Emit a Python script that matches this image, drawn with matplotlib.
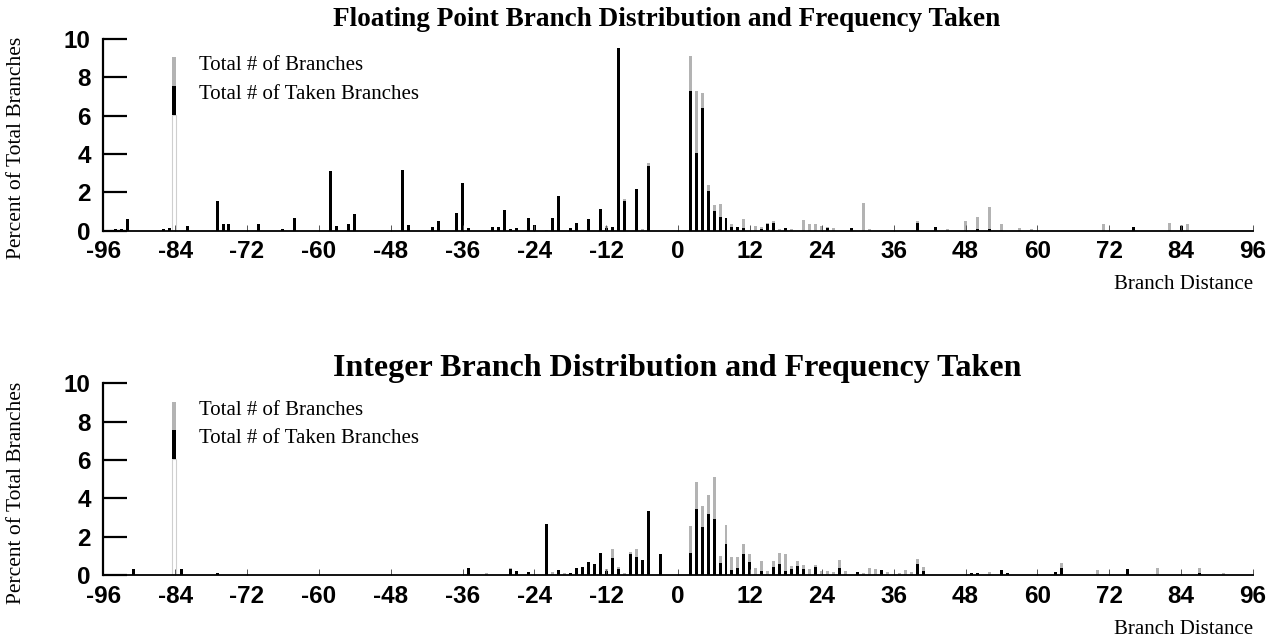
import matplotlib
matplotlib.use("Agg")
import matplotlib.pyplot as plt
from matplotlib.patches import Rectangle

# branch distance -> (% of all branches, % of branches taken)
fp_dist = [-94, -93, -92, -86, -85, -82, -77, -76, -75, -70, -66, -64, -58, -57,
           -55, -54, -46, -45, -41, -40, -37, -36, -35, -31, -30, -29, -28, -27,
           -25, -24, -22, -21, -20, -18, -17, -15, -13, -12, -11, -10, -9, -7,
           -6, -5, 2, 3, 4, 5, 6, 7, 8, 9, 10, 11, 13, 14, 15, 16, 17, 18, 19,
           21, 22, 23, 24, 25, 26, 29, 31, 32, 40, 43, 45, 48, 50, 52, 54, 57,
           59, 71, 76, 82, 84, 85]
fp_total = [0.08, 0.1, 0.63, 0.1, 0.15, 0.23, 1.53, 0.35, 0.35, 0.35, 0.1, 0.66,
            3.13, 0.24, 0.35, 0.85, 3.14, 0.3, 0.21, 0.49, 0.9, 2.5, 0.16, 0.19,
            0.19, 1.08, 0.1, 0.12, 0.66, 0.31, 0.05, 0.66, 1.79, 0.12, 0.42, 0.61,
            1.15, 0.25, 0.19, 9.55, 1.65, 2.2, 0.08, 3.54, 9.13, 7.27, 7.19, 2.38,
            1.34, 1.41, 0.66, 0.35, 0.2, 0.63, 0.24, 0.19, 0.38, 0.49, 0.09, 0.14,
            0.09, 0.56, 0.36, 0.36, 0.25, 0.18, 0.16, 0.12, 1.46, 0.1, 0.5, 0.17,
            0.09, 0.5, 0.71, 1.25, 0.35, 0.12, 0.09, 0.36, 0.19, 0.4, 0.3, 0.35]
fp_taken = [0.08, 0.1, 0.63, 0.1, 0.15, 0.23, 1.53, 0.35, 0.35, 0.35, 0.1, 0.66,
            3.13, 0.24, 0.35, 0.85, 3.14, 0.3, 0.21, 0.49, 0.9, 2.5, 0.16, 0.19,
            0.19, 1.08, 0.1, 0.12, 0.66, 0.31, 0.0, 0.66, 1.79, 0.12, 0.42, 0.61,
            1.15, 0.12, 0.19, 9.55, 1.53, 2.15, 0.0, 3.39, 7.29, 4.05, 6.41, 2.05,
            1.04, 0.73, 0.66, 0.19, 0.17, 0.12, 0.0, 0.09, 0.35, 0.4, 0.0, 0.14,
            0.0, 0.0, 0.0, 0.0, 0.0, 0.16, 0.0, 0.12, 0.0, 0.0, 0.38, 0.17,
            0.0, 0.0, 0.09, 0.1, 0.0, 0.0, 0.0, 0.0, 0.19, 0.0, 0.26, 0.0]

int_dist = [-91, -83, -77, -35, -32, -28, -27, -25, -22, -21, -20, -19, -18, -17,
            -16, -15, -14, -13, -12, -11, -10, -9, -8, -7, -6, -5, -3, 2, 3, 4,
            5, 6, 7, 8, 9, 10, 11, 12, 13, 14, 15, 16, 17, 18, 19, 20, 21, 22,
            23, 24, 25, 26, 27, 28, 30, 31, 32, 33, 34, 35, 37, 38, 39, 40, 41,
            49, 50, 52, 54, 55, 63, 64, 70, 75, 80, 87, 91]
int_total = [0.35, 0.35, 0.12, 0.38, 0.1, 0.36, 0.22, 0.16, 2.66, 0.19, 0.28, 0.1,
             0.1, 0.38, 0.43, 0.71, 0.59, 1.17, 0.31, 1.38, 0.41, 0.1, 1.19, 1.38,
             0.78, 3.35, 1.1, 2.56, 4.84, 3.63, 4.16, 5.11, 1.0, 2.64, 0.97, 0.95,
             1.64, 1.09, 0.38, 0.73, 0.24, 0.74, 1.16, 1.09, 0.5, 0.74, 0.55, 0.31,
             0.52, 0.22, 0.21, 0.16, 0.81, 0.21, 0.16, 0.1, 0.38, 0.31, 0.29, 0.16,
             0.1, 0.29, 0.16, 0.86, 0.41, 0.12, 0.1, 0.16, 0.28, 0.14, 0.19, 0.62,
             0.29, 0.33, 0.38, 0.38, 0.12]
int_taken = [0.35, 0.35, 0.12, 0.38, 0.0, 0.31, 0.22, 0.16, 2.66, 0.0, 0.28, 0.0,
             0.1, 0.38, 0.43, 0.71, 0.59, 1.17, 0.22, 0.9, 0.31, 0.0, 1.12, 0.93,
             0.78, 3.35, 1.1, 1.17, 3.47, 2.52, 3.21, 2.95, 0.66, 1.62, 0.26, 0.4,
             1.1, 0.67, 0.0, 0.21, 0.0, 0.43, 0.59, 0.21, 0.31, 0.5, 0.31, 0.0,
             0.43, 0.0, 0.0, 0.0, 0.38, 0.0, 0.16, 0.0, 0.0, 0.0, 0.29, 0.0,
             0.0, 0.0, 0.0, 0.57, 0.22, 0.12, 0.1, 0.0, 0.28, 0.14, 0.19, 0.38,
             0.0, 0.33, 0.0, 0.1, 0.0]

xticks = list(range(-96, 97, 12))
yticks = [0, 2, 4, 6, 8, 10]

GRAY = '#b3b3b3'
SERIF = 'Liberation Serif'
SANS = 'Liberation Sans'

fig = plt.figure(figsize=(12.81, 6.39), dpi=100)
ax_fp = fig.add_axes([0.0806, 0.639, 0.8975, 0.300])
ax_int = fig.add_axes([0.0806, 0.0997, 0.8975, 0.3005])


def draw_panel(ax, dist, total, taken, title, title_xy, title_size):
    ax.bar(dist, total, width=0.5, color=GRAY, linewidth=0)
    ax.bar(dist, taken, width=0.5, color='black', linewidth=0)

    # legend drawn as a split bar standing on the axis
    ax.add_patch(Rectangle((-84.6, 0), 0.8, 6.05, facecolor='white',
                           edgecolor='#cfcfcf', linewidth=0.8))
    ax.add_patch(Rectangle((-84.6, 6.05), 0.8, 1.5, facecolor='black', linewidth=0))
    ax.add_patch(Rectangle((-84.6, 7.55), 0.8, 1.5, facecolor=GRAY, linewidth=0))
    ax.text(-80, 8.6, 'Total # of Branches', family=SERIF, fontsize=15, va='center')
    ax.text(-80, 7.1, 'Total # of Taken Branches', family=SERIF, fontsize=15, va='center')

    ax.set_xlim(-96, 96)
    ax.set_ylim(0, 10)
    ax.set_xticks(xticks)
    ax.set_xticklabels([str(t) for t in xticks])
    ax.set_yticks(yticks)
    ax.set_yticks(yticks, minor=True)
    ax.tick_params(axis='y', which='major', direction='in', length=17, width=1.6, pad=9)
    ax.tick_params(axis='y', which='minor', direction='out', length=5, width=1.6)
    ax.tick_params(axis='x', direction='in', length=4, width=0.7, color='#555555', pad=7)
    for lab in ax.get_xticklabels() + ax.get_yticklabels():
        lab.set_family(SANS)
        lab.set_fontweight('bold')
        lab.set_fontsize(17.5)

    for side in ('top', 'right'):
        ax.spines[side].set_visible(False)
    ax.spines['left'].set_linewidth(1.6)
    ax.spines['bottom'].set_linewidth(1.3)

    fig.text(title_xy[0], title_xy[1], title, family=SERIF, fontweight='bold',
             fontsize=title_size, ha='center', va='baseline')
    ax.set_ylabel('Percent of Total Branches', family=SERIF, fontsize=15.5)
    ax.yaxis.set_label_coords(-0.067, 0.43)
    ax.text(1.0, -0.28, 'Branch Distance', transform=ax.transAxes, family=SERIF,
            fontsize=15, ha='right', va='center')


draw_panel(ax_fp, fp_dist, fp_total, fp_taken,
           'Floating Point Branch Distribution and Frequency Taken',
           (0.5203, 0.9593), 19.6)
draw_panel(ax_int, int_dist, int_total, int_taken,
           'Integer Branch Distribution and Frequency Taken',
           (0.5285, 0.4108), 23)

fig.savefig('out.png', dpi=100)
